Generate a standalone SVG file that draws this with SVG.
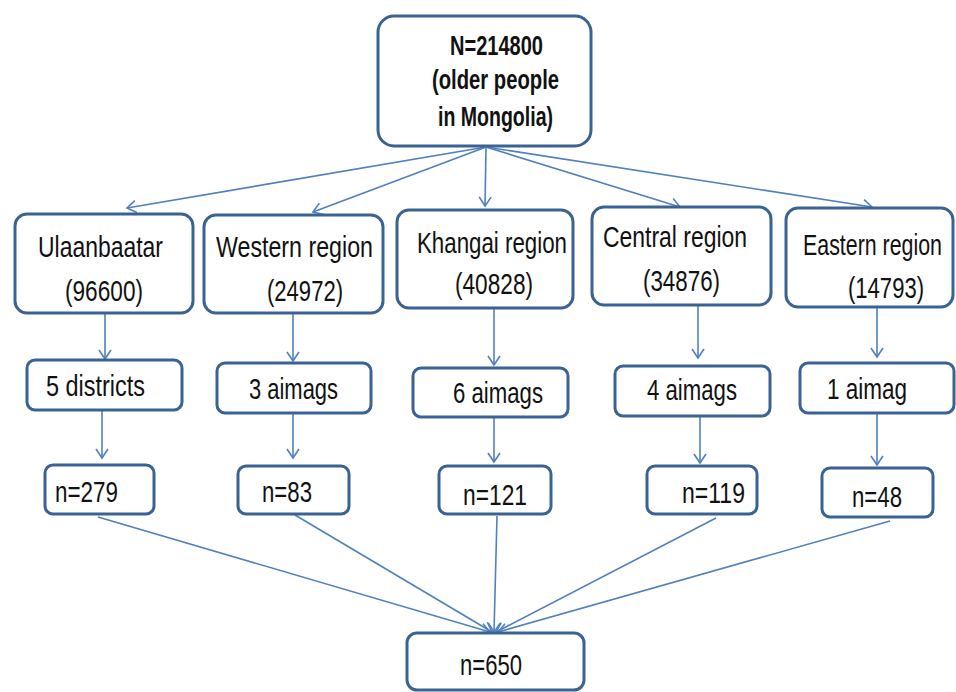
<svg xmlns="http://www.w3.org/2000/svg" width="956" height="692" viewBox="0 0 956 692">
<defs>
<marker id="arr" viewBox="-11 -8 13 16" refX="0" refY="0" markerWidth="13" markerHeight="16" markerUnits="userSpaceOnUse" orient="auto">
<path d="M-9,-6 L0,0 L-9,6" fill="none" stroke="#4F81BD" stroke-width="1.6"/>
</marker>
</defs>
<style>
.box{fill:#fff;stroke:#3A6293;stroke-width:3}
.t{font-family:"Liberation Sans",Arial,sans-serif;font-size:30px;fill:#111}
.b{font-family:"Liberation Sans",Arial,sans-serif;font-size:27px;font-weight:bold;fill:#111}
.c{fill:none;stroke:#4F81BD;stroke-width:1.6;marker-end:url(#arr)}
</style>
<rect width="956" height="692" fill="#fff"/>
<g id="connectors">
<line class="c" x1="486" y1="147" x2="127" y2="208"/>
<line class="c" x1="486" y1="147" x2="313" y2="212"/>
<line class="c" x1="486" y1="147" x2="485" y2="206"/>
<line class="c" x1="486" y1="147" x2="680" y2="207"/>
<line class="c" x1="486" y1="147" x2="872" y2="207"/>
<line class="c" x1="105" y1="313" x2="105" y2="359"/>
<line class="c" x1="293" y1="313" x2="293" y2="361"/>
<line class="c" x1="494" y1="308" x2="494" y2="365"/>
<line class="c" x1="698" y1="305" x2="698" y2="358"/>
<line class="c" x1="877" y1="307" x2="877" y2="357"/>
<line class="c" x1="102" y1="410" x2="102" y2="458"/>
<line class="c" x1="293" y1="413" x2="293" y2="458"/>
<line class="c" x1="494" y1="417" x2="494" y2="462"/>
<line class="c" x1="700" y1="416" x2="700" y2="463"/>
<line class="c" x1="877" y1="413" x2="877" y2="465"/>
<line class="c" x1="98" y1="517" x2="490" y2="632"/>
<line class="c" x1="295" y1="515" x2="492" y2="632"/>
<line class="c" x1="497" y1="516" x2="494" y2="632"/>
<line class="c" x1="716" y1="518" x2="496" y2="632"/>
<line class="c" x1="890" y1="521" x2="498" y2="632"/>
</g>
<g id="n-total">
<rect class="box" x="378" y="16" width="213" height="130" rx="16"/>
<text class="b" x="450" y="55" textLength="93" lengthAdjust="spacingAndGlyphs">N=214800</text>
<text class="b" x="432" y="89" textLength="127" lengthAdjust="spacingAndGlyphs">(older people</text>
<text class="b" x="438" y="126" textLength="115" lengthAdjust="spacingAndGlyphs">in Mongolia)</text>
</g>
<g id="n-ulaanbaatar">
<rect class="box" x="15" y="214" width="178" height="99" rx="12"/>
<text class="t" x="38" y="257" textLength="125" lengthAdjust="spacingAndGlyphs">Ulaanbaatar</text>
<text class="t" x="65" y="301" textLength="78" lengthAdjust="spacingAndGlyphs">(96600)</text>
</g>
<g id="n-western">
<rect class="box" x="204" y="215" width="179" height="98" rx="12"/>
<text class="t" x="216" y="257" textLength="157" lengthAdjust="spacingAndGlyphs">Western region</text>
<text class="t" x="267" y="301" textLength="76" lengthAdjust="spacingAndGlyphs">(24972)</text>
</g>
<g id="n-khangai">
<rect class="box" x="397" y="210" width="176" height="98" rx="12"/>
<text class="t" x="417" y="253" textLength="150" lengthAdjust="spacingAndGlyphs">Khangai region</text>
<text class="t" x="455" y="294" textLength="78" lengthAdjust="spacingAndGlyphs">(40828)</text>
</g>
<g id="n-central">
<rect class="box" x="592" y="207" width="179" height="98" rx="12"/>
<text class="t" x="603" y="247" textLength="144" lengthAdjust="spacingAndGlyphs">Central region</text>
<text class="t" x="643" y="291" textLength="77" lengthAdjust="spacingAndGlyphs">(34876)</text>
</g>
<g id="n-eastern">
<rect class="box" x="786" y="208" width="167" height="99" rx="12"/>
<text class="t" x="803" y="255" textLength="139" lengthAdjust="spacingAndGlyphs">Eastern region</text>
<text class="t" x="848" y="298" textLength="76" lengthAdjust="spacingAndGlyphs">(14793)</text>
</g>
<g id="n-5districts">
<rect class="box" x="27" y="360" width="155" height="50" rx="8"/>
<text class="t" x="46" y="396" textLength="99" lengthAdjust="spacingAndGlyphs">5 districts</text>
</g>
<g id="n-3aimags">
<rect class="box" x="217" y="363" width="154" height="50" rx="8"/>
<text class="t" x="249" y="399" textLength="89" lengthAdjust="spacingAndGlyphs">3 aimags</text>
</g>
<g id="n-6aimags">
<rect class="box" x="413" y="368" width="155" height="49" rx="8"/>
<text class="t" x="453" y="403" textLength="90" lengthAdjust="spacingAndGlyphs">6 aimags</text>
</g>
<g id="n-4aimags">
<rect class="box" x="615" y="366" width="155" height="50" rx="8"/>
<text class="t" x="647" y="400" textLength="90" lengthAdjust="spacingAndGlyphs">4 aimags</text>
</g>
<g id="n-1aimag">
<rect class="box" x="800" y="363" width="154" height="50" rx="8"/>
<text class="t" x="827" y="399" textLength="80" lengthAdjust="spacingAndGlyphs">1 aimag</text>
</g>
<g id="n-279">
<rect class="box" x="45" y="465" width="109" height="49" rx="8"/>
<text class="t" x="55" y="502" textLength="63" lengthAdjust="spacingAndGlyphs">n=279</text>
</g>
<g id="n-83">
<rect class="box" x="238" y="466" width="111" height="48" rx="8"/>
<text class="t" x="262" y="502" textLength="50" lengthAdjust="spacingAndGlyphs">n=83</text>
</g>
<g id="n-121">
<rect class="box" x="439" y="466" width="112" height="48" rx="8"/>
<text class="t" x="463" y="505" textLength="64" lengthAdjust="spacingAndGlyphs">n=121</text>
</g>
<g id="n-119">
<rect class="box" x="647" y="466" width="110" height="48" rx="8"/>
<text class="t" x="682" y="503" textLength="63" lengthAdjust="spacingAndGlyphs">n=119</text>
</g>
<g id="n-48">
<rect class="box" x="822" y="468" width="111" height="49" rx="8"/>
<text class="t" x="852" y="507" textLength="50" lengthAdjust="spacingAndGlyphs">n=48</text>
</g>
<g id="n-650">
<rect class="box" x="407" y="633" width="177" height="57" rx="10"/>
<text class="t" x="460" y="675" textLength="62" lengthAdjust="spacingAndGlyphs">n=650</text>
</g>
</svg>
